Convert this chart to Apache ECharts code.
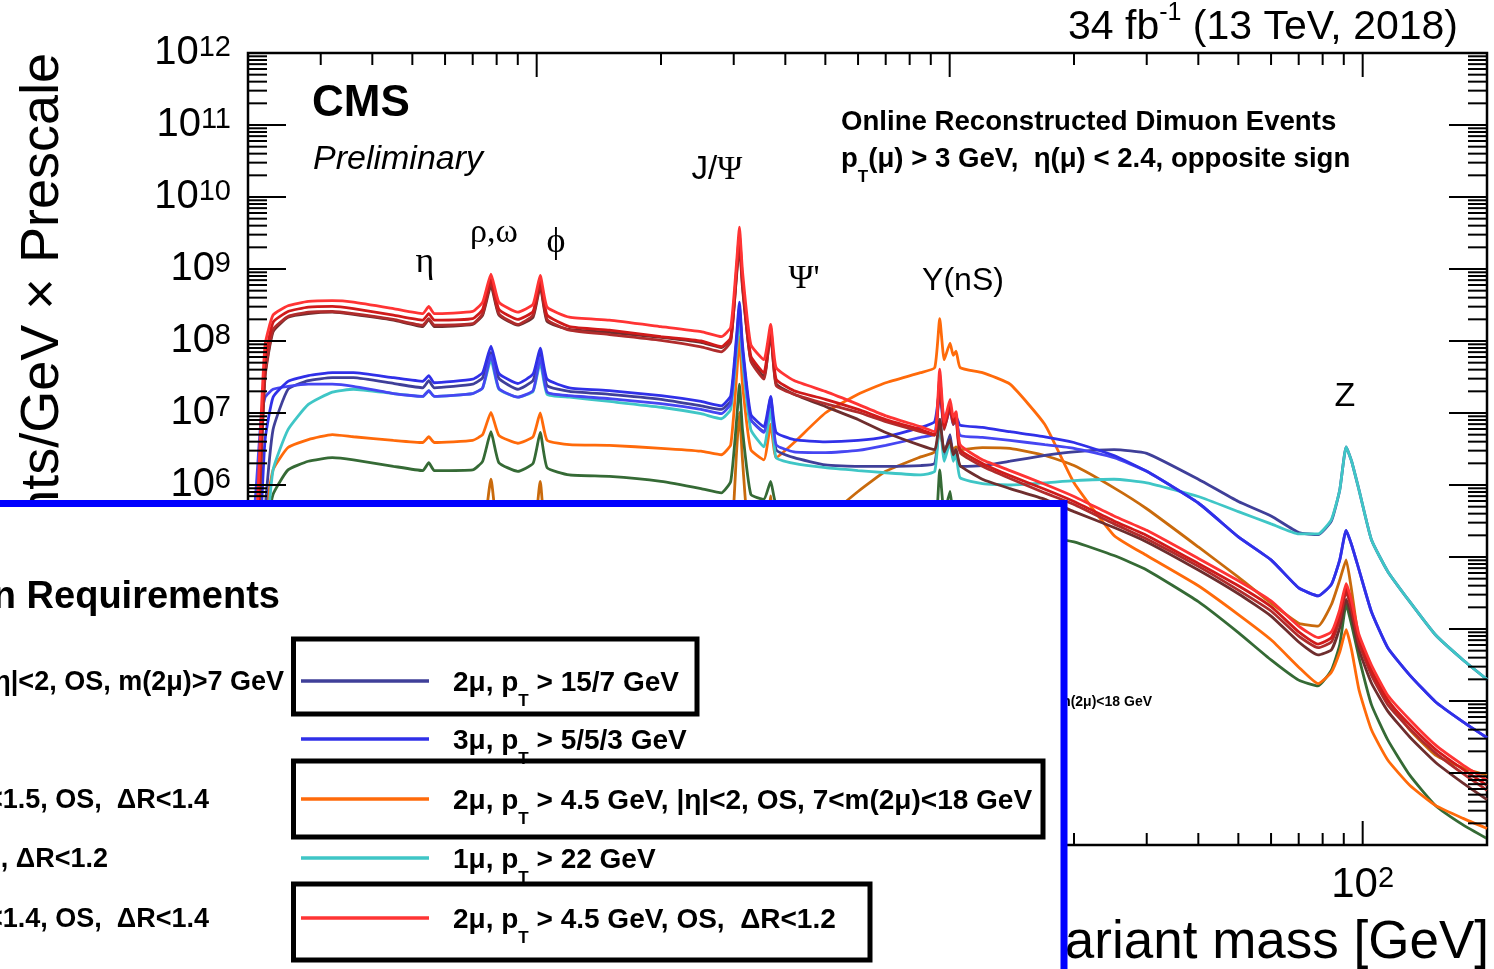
<!DOCTYPE html>
<html>
<head>
<meta charset="utf-8">
<script src="https://cdn.jsdelivr.net/npm/echarts@6/dist/echarts.min.js"></script>
<style>
  html, body { margin: 0; padding: 0; background: #fff; }
  #chart { width: 1494px; height: 969px; }
</style>
</head>
<body>
<div id="chart"></div>
<script>
// Dimuon invariant mass (GeV) sampling shared by every trigger path
const mass = [
  0.2, 0.21, 0.215, 0.22, 0.23, 0.25, 0.28, 0.32, 0.36,
  0.45, 0.53, 0.548, 0.565, 0.7, 0.74, 0.775, 0.81, 0.9, 0.98, 1.02, 1.06,
  1.2, 1.5, 2.0, 2.5, 2.8, 2.95, 3.05, 3.097, 3.15, 3.3, 3.55, 3.686, 3.8,
  4.2, 5, 6, 7, 8.5, 9.2, 9.46, 9.7, 10.02, 10.2, 10.36, 10.6, 12,
  14, 17, 20, 25, 30, 40, 50, 60, 70, 78, 84,
  88, 91.2, 94, 98, 105, 115, 130, 150, 175, 200
];

// log10(Events/GeV x Prescale), one entry per mass point
const logRed = [
  4.13, 5.52, 6.91, 7.95, 8.36, 8.49, 8.55, 8.56, 8.54,
  8.45, 8.38, 8.48, 8.38, 8.41, 8.54, 8.93, 8.54, 8.40, 8.51, 8.91, 8.47,
  8.33, 8.29, 8.20, 8.13, 8.06, 8.19, 9.11, 9.58, 8.97, 7.95, 7.74, 8.23, 7.63,
  7.45, 7.30, 7.12, 6.96, 6.81, 6.74, 7.61, 6.87, 7.19, 6.94, 7.02, 6.56, 6.35,
  6.20, 6.01, 5.84, 5.57, 5.37, 4.98, 4.67, 4.39, 4.04, 3.88, 3.96,
  4.27, 4.63, 4.39, 3.92, 3.50, 3.08, 2.74, 2.39, 2.11, 1.90
];
const logDarkRed = [
  3.85, 5.24, 6.63, 7.74, 8.26, 8.41, 8.47, 8.48, 8.45,
  8.36, 8.29, 8.38, 8.29, 8.31, 8.44, 8.86, 8.44, 8.30, 8.41, 8.84, 8.36,
  8.20, 8.15, 8.06, 8.00, 7.92, 8.05, 9.02, 9.48, 8.86, 7.79, 7.56, 8.19, 7.47,
  7.31, 7.19, 7.05, 6.91, 6.77, 6.70, 7.49, 6.80, 7.12, 6.88, 6.96, 6.49, 6.30,
  6.13, 5.94, 5.77, 5.50, 5.30, 4.91, 4.60, 4.31, 3.96, 3.79, 3.88,
  4.20, 4.57, 4.32, 3.86, 3.42, 3.01, 2.67, 2.33, 2.05, 1.83
];
const logFirebrick = [
  3.57, 4.96, 6.35, 7.54, 8.16, 8.34, 8.40, 8.41, 8.38,
  8.30, 8.22, 8.31, 8.22, 8.24, 8.38, 8.82, 8.38, 8.23, 8.36, 8.80, 8.30,
  8.15, 8.09, 8.01, 7.92, 7.85, 7.99, 8.97, 9.41, 8.79, 7.72, 7.47, 8.16, 7.38,
  7.26, 7.13, 7.01, 6.88, 6.74, 6.69, 7.44, 6.77, 7.08, 6.84, 6.92, 6.45, 6.26,
  6.09, 5.89, 5.73, 5.46, 5.25, 4.87, 4.54, 4.25, 3.90, 3.74, 3.82,
  4.13, 4.52, 4.27, 3.80, 3.36, 2.95, 2.61, 2.28, 1.99, 1.76
];
const logBrown = [
  3.50, 4.89, 6.28, 7.51, 8.13, 8.33, 8.38, 8.40, 8.37,
  8.29, 8.20, 8.30, 8.20, 8.23, 8.36, 8.77, 8.36, 8.22, 8.33, 8.76, 8.27,
  8.16, 8.12, 8.05, 7.98, 7.91, 8.02, 8.93, 9.34, 8.74, 7.74, 7.51, 8.09, 7.41,
  7.26, 7.09, 6.91, 6.73, 6.55, 6.49, 6.91, 6.46, 6.63, 6.42, 6.49, 6.27, 6.08,
  5.95, 5.80, 5.63, 5.41, 5.21, 4.82, 4.49, 4.18, 3.82, 3.64, 3.71,
  4.02, 4.41, 4.17, 3.71, 3.25, 2.86, 2.50, 2.15, 1.86, 1.63
];
const logTriMuon = [
  3.02, 4.41, 5.52, 6.63, 7.22, 7.44, 7.52, 7.56, 7.56,
  7.49, 7.44, 7.52, 7.42, 7.47, 7.56, 7.93, 7.55, 7.41, 7.54, 7.90, 7.47,
  7.35, 7.31, 7.24, 7.16, 7.10, 7.24, 8.09, 8.54, 7.95, 6.98, 6.81, 7.23, 6.73,
  6.63, 6.60, 6.62, 6.67, 6.80, 6.88, 7.33, 6.91, 7.09, 6.91, 6.95, 6.83, 6.80,
  6.74, 6.67, 6.59, 6.41, 6.19, 5.75, 5.28, 4.96, 4.57, 4.46, 4.62,
  4.96, 5.37, 5.17, 4.82, 4.24, 3.74, 3.36, 2.99, 2.71, 2.49
];
const logBlue = [
  4.41, 6.08, 6.91, 7.22, 7.33, 7.37, 7.40, 7.40, 7.37,
  7.27, 7.23, 7.31, 7.23, 7.27, 7.35, 7.80, 7.34, 7.22, 7.31, 7.77, 7.29,
  7.24, 7.20, 7.13, 7.05, 6.99, 7.13, 8.02, 8.48, 7.88, 6.91, 6.73, 7.22, 6.56,
  6.46, 6.45, 6.48, 6.55, 6.66, 6.71, 7.29, 6.80, 7.05, 6.84, 6.91, 6.69, 6.66,
  6.62, 6.56, 6.51, 6.38, 6.19, 5.75, 5.28, 4.96, 4.57, 4.46, 4.62,
  4.96, 5.37, 5.17, 4.82, 4.24, 3.74, 3.36, 2.99, 2.71, 2.49
];
const logNavy = [
  2.74, 3.71, 4.68, 5.66, 6.77, 7.33, 7.45, 7.49, 7.49,
  7.41, 7.35, 7.45, 7.35, 7.40, 7.49, 7.84, 7.48, 7.33, 7.45, 7.83, 7.38,
  7.30, 7.26, 7.19, 7.10, 7.05, 7.17, 7.99, 8.40, 7.86, 6.91, 6.74, 7.19, 6.49,
  6.38, 6.28, 6.26, 6.26, 6.27, 6.30, 6.91, 6.42, 6.70, 6.38, 6.49, 6.26, 6.27,
  6.33, 6.41, 6.46, 6.49, 6.44, 6.08, 5.77, 5.57, 5.34, 5.31, 5.50,
  5.93, 6.53, 6.33, 5.93, 5.24, 4.80, 4.38, 3.92, 3.57, 3.30
];
const logCyan = [
  1.62, 2.74, 3.85, 4.96, 6.21, 6.77, 7.12, 7.29, 7.33,
  7.27, 7.23, 7.31, 7.23, 7.27, 7.35, 7.74, 7.33, 7.22, 7.30, 7.70, 7.26,
  7.22, 7.16, 7.08, 6.99, 6.92, 7.05, 7.88, 8.33, 7.74, 6.77, 6.53, 7.05, 6.38,
  6.30, 6.24, 6.20, 6.17, 6.14, 6.19, 6.91, 6.33, 6.59, 6.33, 6.42, 6.10, 6.02,
  6.00, 6.03, 6.06, 6.08, 6.03, 5.84, 5.63, 5.46, 5.32, 5.32, 5.52,
  5.93, 6.53, 6.33, 5.93, 5.24, 4.80, 4.38, 3.92, 3.57, 3.30
];
const logOrange = [
  2.18, 3.29, 4.41, 5.52, 6.21, 6.52, 6.63, 6.70, 6.67,
  6.62, 6.59, 6.67, 6.59, 6.62, 6.70, 7.01, 6.69, 6.58, 6.67, 7.00, 6.62,
  6.56, 6.55, 6.51, 6.47, 6.42, 6.56, 7.53, 8.06, 7.40, 6.49, 6.35, 6.84, 6.38,
  6.59, 7.00, 7.26, 7.42, 7.56, 7.63, 8.31, 7.74, 7.97, 7.80, 7.86, 7.63, 7.56,
  7.40, 6.84, 6.03, 5.30, 5.02, 4.60, 4.20, 3.85, 3.47, 3.24, 3.40,
  3.68, 3.99, 3.71, 3.15, 2.60, 2.18, 1.83, 1.55, 1.37, 1.23
];
const logGreen = [
  1.90, 3.02, 4.13, 5.24, 5.87, 6.21, 6.33, 6.38, 6.35,
  6.26, 6.20, 6.31, 6.20, 6.21, 6.33, 6.74, 6.31, 6.19, 6.30, 6.73, 6.24,
  6.14, 6.12, 6.05, 5.95, 5.89, 6.05, 6.91, 7.40, 6.77, 5.87, 5.80, 6.05, 5.73,
  5.66, 5.59, 5.52, 5.45, 5.41, 5.38, 6.21, 5.59, 5.91, 5.59, 5.73, 5.38, 5.34,
  5.31, 5.27, 5.21, 5.02, 4.82, 4.38, 3.95, 3.57, 3.29, 3.21, 3.43,
  3.78, 4.34, 4.06, 3.60, 2.95, 2.46, 1.97, 1.55, 1.28, 1.09
];
const logDarkOrange = [
  0.93, 2.18, 3.29, 4.27, 4.82, 5.07, 5.17, 5.24, 5.21,
  5.14, 5.10, 5.20, 5.10, 5.13, 5.27, 6.08, 5.27, 5.10, 5.24, 6.05, 5.17,
  5.06, 5.02, 4.96, 4.89, 4.85, 5.10, 6.49, 7.01, 6.35, 4.96, 4.75, 5.85, 4.71,
  4.96, 5.52, 5.91, 6.19, 6.39, 6.46, 6.77, 6.49, 6.60, 6.49, 6.53, 6.49, 6.52,
  6.51, 6.41, 6.27, 5.96, 5.67, 5.14, 4.72, 4.36, 4.08, 4.04, 4.34,
  4.68, 4.96, 4.54, 3.85, 3.43, 3.02, 2.60, 2.25, 2.07, 1.97
];

// Axis ranges and tick digits (log axes, ROOT-like ticks on all four sides)
const massRange = [0.2, 200];
const countRange = [10, 1e12];
const tickDigits = [1, 2, 3, 4, 5, 6, 7, 8, 9];
const countDecades = [1, 2, 3, 4, 5, 6, 7, 8, 9, 10, 11];
const massDecades = [-1, 0, 1, 2];

// Trigger paths, drawn bottom to top
const paths = [
  { name: 'dark orange path', color: '#c96a0c', logs: logDarkOrange },
  { name: 'green path', color: '#356a35', logs: logGreen },
  { name: '2μ, pT > 4.5 GeV, |η|<2, OS, 7<m(2μ)<18 GeV', color: '#ff6a0a', logs: logOrange },
  { name: '2μ, pT > 15/7 GeV', color: '#3f3f99', logs: logNavy },
  { name: '1μ, pT > 22 GeV', color: '#3fc6c6', logs: logCyan },
  { name: 'blue path', color: '#4646f2', logs: logBlue },
  { name: '3μ, pT > 5/5/3 GeV', color: '#3030e8', logs: logTriMuon },
  { name: 'brown path', color: '#6e2e2e', logs: logBrown },
  { name: 'firebrick path', color: '#b02c2c', logs: logFirebrick },
  { name: 'dark red path', color: '#d01a1a', logs: logDarkRed },
  { name: '2μ, pT > 4.5 GeV, OS, ΔR<1.2', color: '#ff3434', logs: logRed }
];

const SANS = 'Liberation Sans';
const SERIF = 'Liberation Serif';

const measureCtx = document.createElement('canvas').getContext('2d');
function fontOf(p) {
  return (p.style || 'normal') + ' ' + (p.weight || 'normal') + ' ' + p.size + 'px "' + (p.family || SANS) + '"';
}
// Lay out a run of text pieces (normal / sub / superscript) side by side
function textRun(x, y, parts, z, align) {
  const widths = parts.map(p => { measureCtx.font = fontOf(p); return measureCtx.measureText(p.t).width; });
  const total = widths.reduce((a, b) => a + b, 0);
  let cx = align === 'right' ? x - total : align === 'center' ? x - total / 2 : x;
  return parts.map((p, i) => {
    const el = {
      type: 'text', x: cx, y: y + (p.dy || 0), z: z, silent: true,
      style: { text: p.t, font: fontOf(p), fill: p.color || '#000', textAlign: 'left', textVerticalAlign: 'middle' }
    };
    cx += widths[i];
    return el;
  });
}
function ptRow(x, y, before, after, size, z) {
  return textRun(x, y, [
    { t: before, size: size, weight: 'bold' },
    { t: 'T', size: Math.round(size * 0.6), weight: 'bold', dy: Math.round(size * 0.64) },
    { t: after, size: size, weight: 'bold' }
  ], z, 'left');
}

// ---------- text on the plot ----------
const Z_TEXT = 10;
const plotText = [].concat(
  [{ type: 'text', x: 312, y: 104, z: Z_TEXT, silent: true,
     style: { text: 'CMS', font: 'normal bold 44px "' + SANS + '"', fill: '#000', textAlign: 'left', textVerticalAlign: 'middle' } },
   { type: 'text', x: 313, y: 160, z: Z_TEXT, silent: true,
     style: { text: 'Preliminary', font: 'italic normal 34px "' + SANS + '"', fill: '#000', textAlign: 'left', textVerticalAlign: 'middle' } },
   { type: 'text', x: 841, y: 122, z: Z_TEXT, silent: true,
     style: { text: 'Online Reconstructed Dimuon Events', font: 'normal bold 27.6px "' + SANS + '"', fill: '#000', textAlign: 'left', textVerticalAlign: 'middle' } }],
  ptRow(841, 159, 'p', '(μ) > 3 GeV,  η(μ) < 2.4, opposite sign', 27.6, Z_TEXT),
  textRun(1458, 28, [
    { t: '34 fb', size: 41 },
    { t: '-1', size: 25, dy: -15 },
    { t: ' (13 TeV, 2018)', size: 41 }
  ], Z_TEXT, 'right'),
  textRun(425, 263, [{ t: 'η', size: 36, family: SERIF }], Z_TEXT, 'center'),
  textRun(494, 233, [{ t: 'ρ,ω', size: 34, family: SERIF }], Z_TEXT, 'center'),
  textRun(556, 243, [{ t: 'ϕ', size: 36, family: SERIF }], Z_TEXT, 'center'),
  textRun(717, 170, [{ t: 'J/', size: 33 }, { t: 'Ψ', size: 34, family: SERIF }], Z_TEXT, 'center'),
  textRun(804, 279, [{ t: 'Ψ\'', size: 34, family: SERIF }], Z_TEXT, 'center'),
  textRun(963, 281, [{ t: 'Y(nS)', size: 32 }], Z_TEXT, 'center'),
  textRun(1345, 397, [{ t: 'Z', size: 34 }], Z_TEXT, 'center'),
  [{ type: 'text', x: 43, y: 53, rotation: Math.PI / 2, z: Z_TEXT, silent: true,
     style: { text: 'Events/GeV × Prescale', font: 'normal normal 54px "' + SANS + '"', fill: '#000', textAlign: 'right', textVerticalAlign: 'middle' } },
   { type: 'text', x: 1489, y: 943, z: Z_TEXT, silent: true,
     style: { text: 'Dimuon invariant mass [GeV]', font: 'normal normal 53px "' + SANS + '"', fill: '#000', textAlign: 'right', textVerticalAlign: 'middle' } },
   { type: 'text', x: 1152, y: 702, z: Z_TEXT, silent: true,
     style: { text: '7<m(2μ)<18 GeV', font: 'normal bold 14px "' + SANS + '"', fill: '#000', textAlign: 'right', textVerticalAlign: 'middle' } }]
);

// ---------- enlarged legend panel ----------
const Z_INSET = 100;
const rowY = [681, 739, 799, 858, 918];
const legendRows = [
  { color: '#3f3f99', before: '2μ, p', after: ' > 15/7 GeV' },
  { color: '#3030e8', before: '3μ, p', after: ' > 5/5/3 GeV' },
  { color: '#ff6a0a', before: '2μ, p', after: ' > 4.5 GeV, |η|<2, OS, 7<m(2μ)<18 GeV' },
  { color: '#3fc6c6', before: '1μ, p', after: ' > 22 GeV' },
  { color: '#ff3434', before: '2μ, p', after: ' > 4.5 GeV, OS,  ΔR<1.2' }
];
const leftColumn = [
  { t: '|η|<2, OS, m(2μ)>7 GeV', right: 284, y: rowY[0] },
  { t: '|η|<1.5, OS,  ΔR<1.4', right: 209, y: rowY[2] },
  { t: 'OS, ΔR<1.2', right: 108, y: rowY[3] },
  { t: '|η|<1.4, OS,  ΔR<1.4', right: 209, y: rowY[4] }
];
const boxes = [
  { x: 293.5, y: 639, w: 403.5, h: 75 },
  { x: 293.5, y: 761, w: 749.5, h: 76 },
  { x: 293.5, y: 884, w: 576.5, h: 76 }
];

let inset = [{
  type: 'rect', z: Z_INSET, silent: true,
  shape: { x: -10, y: 503.5, width: 1074, height: 480 },
  style: { fill: '#ffffff', stroke: '#0000ff', lineWidth: 7 }
}, {
  type: 'text', x: 280, y: 598, z: Z_INSET + 1, silent: true,
  style: { text: 'Selection Requirements', font: 'normal bold 38px "' + SANS + '"', fill: '#000', textAlign: 'right', textVerticalAlign: 'middle' }
}];
leftColumn.forEach(e => inset.push({
  type: 'text', x: e.right, y: e.y + 2, z: Z_INSET + 1, silent: true,
  style: { text: e.t, font: 'normal bold 27px "' + SANS + '"', fill: '#000', textAlign: 'right', textVerticalAlign: 'middle' }
}));
boxes.forEach(b => inset.push({
  type: 'rect', z: Z_INSET + 1, silent: true,
  shape: { x: b.x, y: b.y, width: b.w, height: b.h },
  style: { fill: 'none', stroke: '#000', lineWidth: 5 }
}));
legendRows.forEach((r, i) => {
  inset.push({
    type: 'line', z: Z_INSET + 1, silent: true,
    shape: { x1: 301, y1: rowY[i], x2: 429, y2: rowY[i] },
    style: { stroke: r.color, lineWidth: 3.5 }
  });
  inset = inset.concat(ptRow(453, rowY[i] + 2, r.before, r.after, 28, Z_INSET + 1));
});

// ---------- tick marks ----------
const countTicks = [];
countDecades.forEach(k => tickDigits.forEach(d => countTicks.push([massRange[0], d * Math.pow(10, k), d === 1 ? 1 : 0])));
countTicks.push([massRange[0], countRange[1], 1]);
const massTicks = [];
massDecades.forEach(k => tickDigits.forEach(d => {
  const m = d * Math.pow(10, k);
  if (m >= massRange[0] * 0.999 && m <= massRange[1] * 1.001) massTicks.push([m, countRange[1], d === 1 ? 1 : 0]);
}));

function isPow10(v) {
  const e = Math.round(Math.log10(v));
  return Math.abs(v - Math.pow(10, e)) / v < 1e-6 ? e : null;
}

const chart = echarts.init(document.getElementById('chart'), null, { renderer: 'canvas' });
chart.setOption({
  animation: false,
  backgroundColor: '#ffffff',
  grid: { left: 248, right: 7, top: 53, bottom: 124, show: true, borderColor: '#000', borderWidth: 2.5, backgroundColor: 'transparent' },
  xAxis: {
    type: 'log', logBase: 10, min: massRange[0], max: massRange[1],
    axisLine: { show: false }, axisTick: { show: false }, splitLine: { show: false },
    axisLabel: {
      margin: 19,
      formatter: v => {
        const e = isPow10(v);
        if (e === null) return '';
        if (e === 0) return '{b|1}';
        if (e === 1) return '{b|10}';
        return '{b|10}{s|' + e + '}';
      },
      rich: {
        b: { fontSize: 42, fontFamily: SANS, color: '#000', lineHeight: 42, padding: [10, 0, 0, 0], verticalAlign: 'bottom' },
        s: { fontSize: 29, fontFamily: SANS, color: '#000', lineHeight: 29, verticalAlign: 'top' }
      }
    }
  },
  yAxis: {
    type: 'log', logBase: 10, min: countRange[0], max: countRange[1], interval: 1, splitNumber: 11,
    axisLine: { show: false }, axisTick: { show: false }, splitLine: { show: false },
    axisLabel: {
      margin: 17,
      formatter: v => {
        const e = isPow10(v);
        return e === null ? '' : '{b|10}{s|' + e + '}';
      },
      rich: {
        b: { fontSize: 40, fontFamily: SANS, color: '#000', lineHeight: 40, padding: [10, 0, 0, 0], verticalAlign: 'bottom' },
        s: { fontSize: 29, fontFamily: SANS, color: '#000', lineHeight: 29, verticalAlign: 'top' }
      }
    }
  },
  graphic: plotText.concat(inset),
  series: paths.map(p => ({
    type: 'line', name: p.name,
    data: mass.map((m, i) => [m, Math.pow(10, p.logs[i])]),
    showSymbol: false, symbol: 'none', smooth: 0.15,
    lineStyle: { color: p.color, width: 2.8 },
    itemStyle: { color: p.color },
    z: 2, silent: true
  })).concat([
    {
      type: 'custom', name: 'count ticks', coordinateSystem: 'cartesian2d', silent: true, z: 5,
      encode: { x: 0, y: 1 }, data: countTicks,
      renderItem: (params, api) => {
        const cs = params.coordSys;
        const y = api.coord([api.value(0), api.value(1)])[1];
        const len = api.value(2) ? 38 : 19;
        return { type: 'group', children: [
          { type: 'line', shape: { x1: cs.x, y1: y, x2: cs.x + len, y2: y }, style: { stroke: '#000', lineWidth: 2 } },
          { type: 'line', shape: { x1: cs.x + cs.width - len, y1: y, x2: cs.x + cs.width, y2: y }, style: { stroke: '#000', lineWidth: 2 } }
        ] };
      }
    },
    {
      type: 'custom', name: 'mass ticks', coordinateSystem: 'cartesian2d', silent: true, z: 5,
      encode: { x: 0, y: 1 }, data: massTicks,
      renderItem: (params, api) => {
        const cs = params.coordSys;
        const x = api.coord([api.value(0), api.value(1)])[0];
        const len = api.value(2) ? 24 : 12;
        return { type: 'group', children: [
          { type: 'line', shape: { x1: x, y1: cs.y + cs.height, x2: x, y2: cs.y + cs.height - len }, style: { stroke: '#000', lineWidth: 2 } },
          { type: 'line', shape: { x1: x, y1: cs.y, x2: x, y2: cs.y + len }, style: { stroke: '#000', lineWidth: 2 } }
        ] };
      }
    }
  ])
});
</script>
</body>
</html>
